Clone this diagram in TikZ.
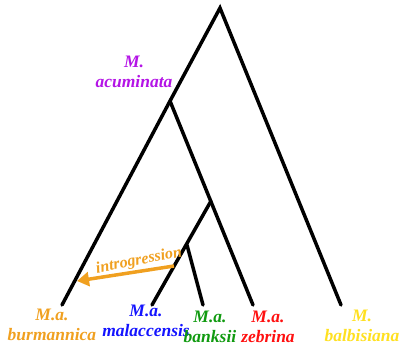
\documentclass[tikz,border=0pt]{standalone}
\usepackage{fontspec}
\setmainfont{Liberation Serif}
\usetikzlibrary{arrows.meta}
\definecolor{corange}{HTML}{F0A020}
\definecolor{cblue}{HTML}{1414FF}
\definecolor{cgreen}{HTML}{109A10}
\definecolor{cred}{HTML}{FF1010}
\definecolor{cyellow}{HTML}{FFE020}
\definecolor{cpurple}{HTML}{B414E6}
\tikzset{
  branch/.style={line width=3.5pt, line cap=round},
  lab/.style={font=\fontsize{17.5}{20}\selectfont\bfseries\itshape, inner sep=0pt, align=center},
}
\begin{document}
\begin{tikzpicture}[x=1pt,y=-1pt]
\useasboundingbox (0,0) rectangle (402,345);
\coordinate (root) at (220,8);
\coordinate (acu) at (170,101);
\coordinate (n2) at (211,201);
\coordinate (n3) at (187,245);
\coordinate (bur) at (62,305);
\coordinate (mal) at (152,305);
\coordinate (ban) at (203,305);
\coordinate (zeb) at (253,305);
\coordinate (bal) at (341,305);
\draw[branch] (bal) -- (root) -- (acu) -- (bur);
\draw[branch] (acu) -- (zeb);
\draw[branch] (n2) -- (mal);
\draw[branch] (n3) -- (ban);
\node[lab, text=cpurple] (lacu) at (134,72) {M.\\acuminata};
\node[lab, text=corange] (lbur) at (52,325) {M.a.\\burmannica};
\node[lab, text=cblue] (lmal) at (146,321) {M.a.\\malaccensis};
\node[lab, text=cgreen] (lban) at (210,327) {M.a.\\banksii};
\node[lab, text=cred] (lzeb) at (268,327) {M.a.\\zebrina};
\node[lab, text=cyellow] (lbal) at (362,326) {M.\\balbisiana};
\coordinate (atail) at (174,266);
\coordinate (ahead) at (77,281);
\draw[corange, line width=3.5pt, -{Triangle[length=12pt,width=14pt]}] (atail) -- (ahead);
\node[text=corange, font=\fontsize{16}{17}\selectfont\bfseries\itshape, rotate=11, inner sep=0pt] (intro) at (139,261) {introgression};
\end{tikzpicture}
\end{document}
